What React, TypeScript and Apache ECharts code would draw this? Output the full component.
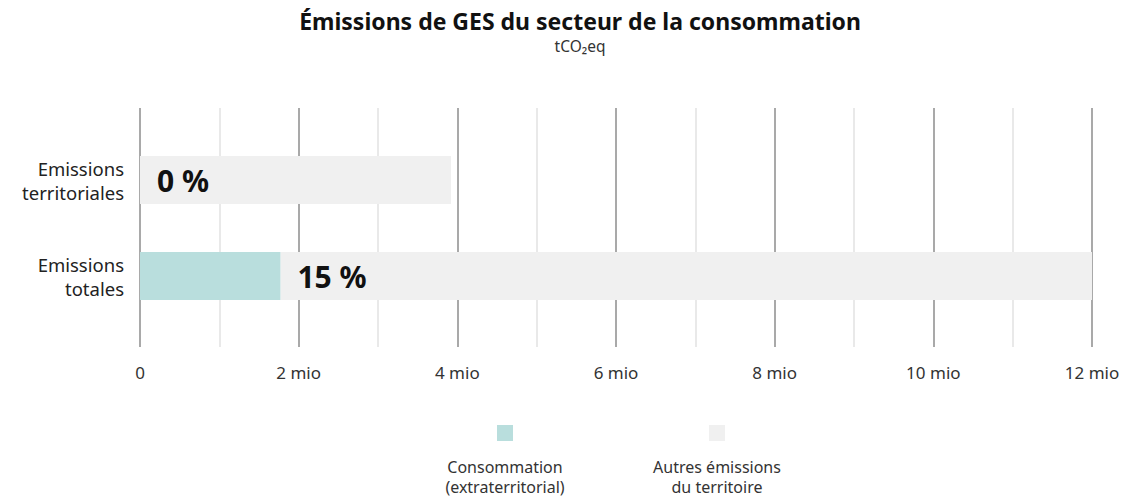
import React, { useEffect, useRef } from "react";
import * as echarts from "echarts";

const categories = ["Emissions\nterritoriales", "Emissions\ntotales"];
const consommation = [0, 1770000];
const autres = [3920000, 10250000];
const tickLabels = ["0", "", "2 mio", "", "4 mio", "", "6 mio", "", "8 mio", "", "10 mio", "", "12 mio"];
const seriesNames = ["Consommation\n(extraterritorial)", "Autres émissions\ndu territoire"];
const colors = ["#b9dedd", "#f0f0f0"];

const FONT = "'Noto Sans', 'Open Sans', sans-serif";

export default function App() {
  const ref = useRef<HTMLDivElement>(null);
  useEffect(() => {
    document.body.style.margin = "0";
    const chart = echarts.init(ref.current!, null, { renderer: "svg" });
    const totals = consommation.map((c, i) => c + autres[i]);
    const option: any = {
      animation: false,
      backgroundColor: "#ffffff",
      textStyle: { fontFamily: FONT },
      title: {
        text: "Émissions de GES du secteur de la consommation",
        subtext: "tCO₂eq",
        left: 575,
        textAlign: "center",
        top: 4,
        itemGap: 6,
        textStyle: { fontFamily: FONT, fontSize: 23, fontWeight: "bold", color: "#111" },
        subtextStyle: { fontFamily: FONT, fontSize: 15.5, color: "#333" },
      },
      grid: [
        { left: 140, width: 952, top: 108, height: 239 },
        { left: 140, width: 952, top: 132, height: 192 },
      ],
      xAxis: [
        {
          gridIndex: 0,
          type: "value",
          min: 0,
          max: 12000000,
          interval: 1000000,
          axisLine: { show: false },
          axisTick: { show: false },
          axisLabel: {
            color: "#333",
            fontSize: 17,
            fontFamily: FONT,
            margin: 17,
            formatter: (v: number) => tickLabels[Math.round(v / 1000000)] ?? "",
          },
          splitLine: {
            show: true,
            lineStyle: { color: ["#8c8c8c", "#e2e2e2"], width: 1.5 },
          },
        },
        {
          gridIndex: 1,
          type: "value",
          min: 0,
          max: 12000000,
          show: false,
          splitLine: { show: false },
        },
      ],
      yAxis: [
        { gridIndex: 0, type: "category", data: categories, show: false },
        {
          gridIndex: 1,
          type: "category",
          data: categories,
          inverse: true,
          axisLine: { show: false },
          axisTick: { show: false },
          axisLabel: {
            color: "#222",
            fontSize: 18.5,
            fontFamily: FONT,
            margin: 16,
            lineHeight: 24,
            align: "right",
          },
        },
      ],
      series: [
        {
          name: seriesNames[0],
          type: "bar",
          xAxisIndex: 1,
          yAxisIndex: 1,
          stack: "total",
          barWidth: 48,
          data: consommation,
          itemStyle: { color: colors[0] },
          label: {
            show: true,
            position: "right",
            distance: 17,
            fontFamily: FONT,
            fontSize: 30,
            fontWeight: "bold",
            color: "#111",
            formatter: (p: any) => Math.round((p.value / totals[p.dataIndex]) * 100) + " %",
          },
          z: 3,
        },
        {
          name: seriesNames[1],
          type: "bar",
          xAxisIndex: 1,
          yAxisIndex: 1,
          stack: "total",
          barWidth: 48,
          data: autres,
          itemStyle: { color: colors[1] },
          z: 2,
        },
      ],
      graphic: [
        { type: "rect", left: 497, top: 425, shape: { width: 16, height: 16 }, style: { fill: colors[0] } },
        { type: "rect", left: 709, top: 425, shape: { width: 16, height: 16 }, style: { fill: colors[1] } },
        {
          type: "text",
          x: 505,
          y: 457,
          style: {
            text: seriesNames[0],
            fill: "#333",
            font: `16px ${FONT}`,
            textAlign: "center",
            lineHeight: 20,
          },
        },
        {
          type: "text",
          x: 717,
          y: 457,
          style: {
            text: seriesNames[1],
            fill: "#333",
            font: `16px ${FONT}`,
            textAlign: "center",
            lineHeight: 20,
          },
        },
      ],
    };
    chart.setOption(option);
    return () => chart.dispose();
  }, []);
  return <div ref={ref} style={{ width: 1126, height: 499 }} />;
}
